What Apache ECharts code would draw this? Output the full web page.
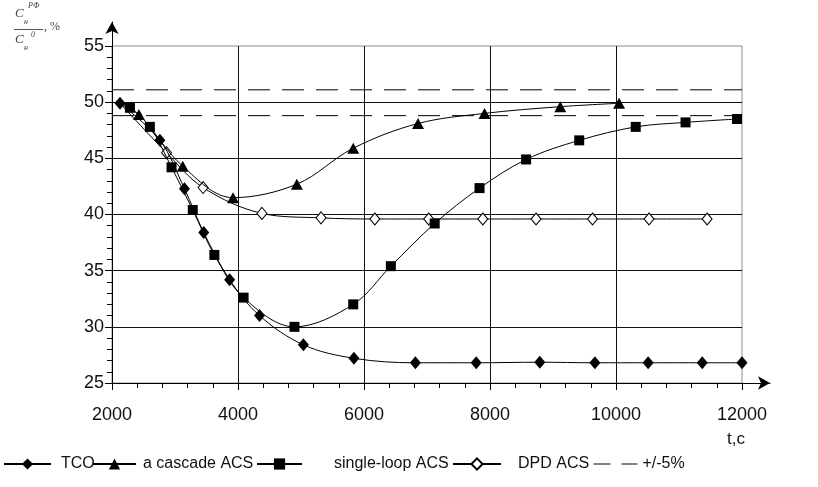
<!DOCTYPE html>
<html><head><meta charset="utf-8">
<script src="https://cdn.jsdelivr.net/npm/echarts@6/dist/echarts.min.js"></script>
<style>html,body{margin:0;padding:0;background:#fff}#c{width:818px;height:487px}</style>
</head><body><div id="c"></div>
<script>
// ---- data ----
const tcoT = [2127, 2760, 3150, 3456, 3867, 4342, 5038, 5840, 6816, 7781, 8790, 9665, 10510, 11369, 12000];
const tcoV = [49.9, 46.6, 42.3, 38.4, 34.2, 31.0, 28.4, 27.2, 26.8, 26.8, 26.85, 26.8, 26.8, 26.8, 26.8];
const cascadeT = [2127, 2427, 3123, 3921, 4934, 5829, 6858, 7913, 9116, 10049];
const cascadeV = [49.9, 48.9, 44.3, 41.5, 42.7, 45.9, 48.1, 49.0, 49.6, 49.9];
const singleT = [2127, 2285, 2601, 2945, 3282, 3625, 4089, 4896, 5829, 6426, 7122, 7834, 8573, 9416, 10313, 11104, 11921];
const singleV = [49.9, 49.5, 47.8, 44.2, 40.4, 36.4, 32.6, 30.0, 32.0, 35.4, 39.2, 42.35, 44.9, 46.6, 47.8, 48.2, 48.5];
const dpdT = [2127, 2865, 3446, 4380, 5318, 6172, 7027, 7886, 8731, 9627, 10524, 11446];
const dpdV = [49.9, 45.5, 42.4, 40.1, 39.7, 39.6, 39.6, 39.6, 39.6, 39.6, 39.6, 39.6];
const bandT = [2000, 12000];
const bandUpper = [51.1, 51.1];
const bandLower = [48.8, 48.8];
const seriesNames = ['TCO', 'a cascade ACS', 'single-loop ACS', 'DPD ACS', '+/-5%'];
const xMin = 2000, xMax = 12000, xStep = 2000;
const yMin = 25, yMax = 55, yStep = 5;
const xUnit = 't,c';

// ---- build ----
function pairs(t, v, hideFirst) {
  return t.map((x, i) => (hideFirst && i === 0) ? {value: [x, v[i]], symbol: 'none'} : [x, v[i]]);
}
const chart = echarts.init(document.getElementById('c'), null, {renderer: 'canvas'});
const FONT = 'Liberation Sans';
const lineBase = {type: 'line', xAxisIndex: 0, yAxisIndex: 0, smooth: 0.35, clip: false,
  lineStyle: {color: '#000', width: 1}, emphasis: {disabled: true}, animation: false};

function legendAt(name, left, width, pad, extra) {
  return Object.assign({show: true, data: [name], left: left, top: 456, padding: 0, itemWidth: width, itemHeight: 14,
    selectedMode: false,
    textStyle: {fontFamily: FONT, fontSize: 16, color: '#111', padding: [0, 0, 0, pad || 0]}}, extra || {});
}

const option = {
  backgroundColor: '#fff',
  animation: false,
  grid: [
    {left: 112, right: 76, top: 46, bottom: 104, show: true, borderColor: '#8c8c8c', borderWidth: 1, backgroundColor: 'transparent'},
    {left: 112, right: 48, top: 22, bottom: 104}
  ],
  xAxis: [
    {type: 'value', gridIndex: 0, min: xMin, max: xMax, interval: xStep,
      axisLine: {show: true, lineStyle: {color: '#000', width: 1}},
      axisTick: {show: true, length: 7, lineStyle: {color: '#000', width: 1}},
      minorTick: {show: true, splitNumber: 5, length: 5, lineStyle: {color: '#000', width: 1}},
      axisLabel: {margin: 23, fontFamily: FONT, fontSize: 18, color: '#111', formatter: v => String(v)},
      splitLine: {show: true, showMinLine: false, showMaxLine: false, lineStyle: {color: '#111', width: 1}}},
    {type: 'value', gridIndex: 1, min: 0, max: 1,
      axisLine: {show: true, symbol: ['none', 'arrow'], symbolSize: [10, 12], lineStyle: {color: '#000', width: 1}},
      axisTick: {show: false}, axisLabel: {show: false}, splitLine: {show: false}}
  ],
  yAxis: [
    {type: 'value', gridIndex: 0, min: yMin, max: yMax, interval: yStep,
      axisLine: {show: true, lineStyle: {color: '#000', width: 1}},
      axisTick: {show: true, length: 7, lineStyle: {color: '#000', width: 1}},
      minorTick: {show: true, splitNumber: 5, length: 5, lineStyle: {color: '#000', width: 1}},
      axisLabel: {margin: 8, fontFamily: FONT, fontSize: 18, color: '#111', formatter: v => String(v)},
      splitLine: {show: true, showMinLine: false, showMaxLine: false, lineStyle: {color: '#111', width: 1}}},
    {type: 'value', gridIndex: 1, min: 0, max: 1,
      axisLine: {show: true, symbol: ['none', 'arrow'], symbolSize: [10, 12], lineStyle: {color: '#000', width: 1}},
      axisTick: {show: false}, axisLabel: {show: false}, splitLine: {show: false}}
  ],
  legend: [
    legendAt(seriesNames[0], 3, 47, 5),
    legendAt(seriesNames[1], 92, 43, 2),
    legendAt(seriesNames[2], 256, 45, 27),
    legendAt(seriesNames[3], 452, 48, 12),
    legendAt(seriesNames[4], 593, 44, 0, {
      itemStyle: {opacity: 0},
      lineStyle: {color: '#000', width: 1, type: [17, 11]}})
  ],
  graphic: [
    {type: 'text', left: 727, top: 431, style: {text: xUnit, font: '17px "Liberation Sans"', fill: '#111'}},
    {type: 'text', left: 15, top: 7, style: {text: 'C', font: 'italic 13px "Liberation Serif"', fill: '#444'}},
    {type: 'text', left: 24, top: 18, style: {text: 'н', font: 'italic 8px "Liberation Serif"', fill: '#444'}},
    {type: 'text', left: 28, top: 2, style: {text: 'PФ', font: 'italic 8px "Liberation Serif"', fill: '#444'}},
    {type: 'line', shape: {x1: 14, y1: 29.5, x2: 43, y2: 29.5}, style: {stroke: '#555', lineWidth: 1}},
    {type: 'text', left: 15, top: 33, style: {text: 'C', font: 'italic 13px "Liberation Serif"', fill: '#444'}},
    {type: 'text', left: 24, top: 44, style: {text: 'н', font: 'italic 8px "Liberation Serif"', fill: '#444'}},
    {type: 'text', left: 31, top: 31, style: {text: '0', font: 'italic 8px "Liberation Serif"', fill: '#444'}},
    {type: 'text', left: 44, top: 21, style: {text: ', %', font: '12px "Liberation Serif"', fill: '#444'}}
  ],
  series: [
    Object.assign({}, lineBase, {name: seriesNames[4], data: pairs(bandT, bandUpper), symbol: 'none', smooth: false, z: 1,
      itemStyle: {color: '#000'}, lineStyle: {color: '#000', width: 1, type: [22, 12]}}),
    Object.assign({}, lineBase, {name: seriesNames[4], data: pairs(bandT, bandLower), symbol: 'none', smooth: false, z: 1,
      itemStyle: {color: '#000'}, lineStyle: {color: '#000', width: 1, type: [22, 12]}}),
    Object.assign({}, lineBase, {name: seriesNames[3], data: pairs(dpdT, dpdV, true), symbol: 'diamond', symbolSize: [10, 12], z: 2,
      itemStyle: {color: '#fff', borderColor: '#000', borderWidth: 1}}),
    Object.assign({}, lineBase, {name: seriesNames[2], data: pairs(singleT, singleV, true), symbol: 'rect', symbolSize: 10, z: 3,
      itemStyle: {color: '#000'}}),
    Object.assign({}, lineBase, {name: seriesNames[1], data: pairs(cascadeT, cascadeV, true), symbol: 'triangle', symbolSize: [12, 11], z: 4,
      itemStyle: {color: '#000'}}),
    Object.assign({}, lineBase, {name: seriesNames[0], data: pairs(tcoT, tcoV), symbol: 'diamond', symbolSize: [11, 13], z: 5,
      itemStyle: {color: '#000'}})
  ]
};
chart.setOption(option);
</script></body></html>
